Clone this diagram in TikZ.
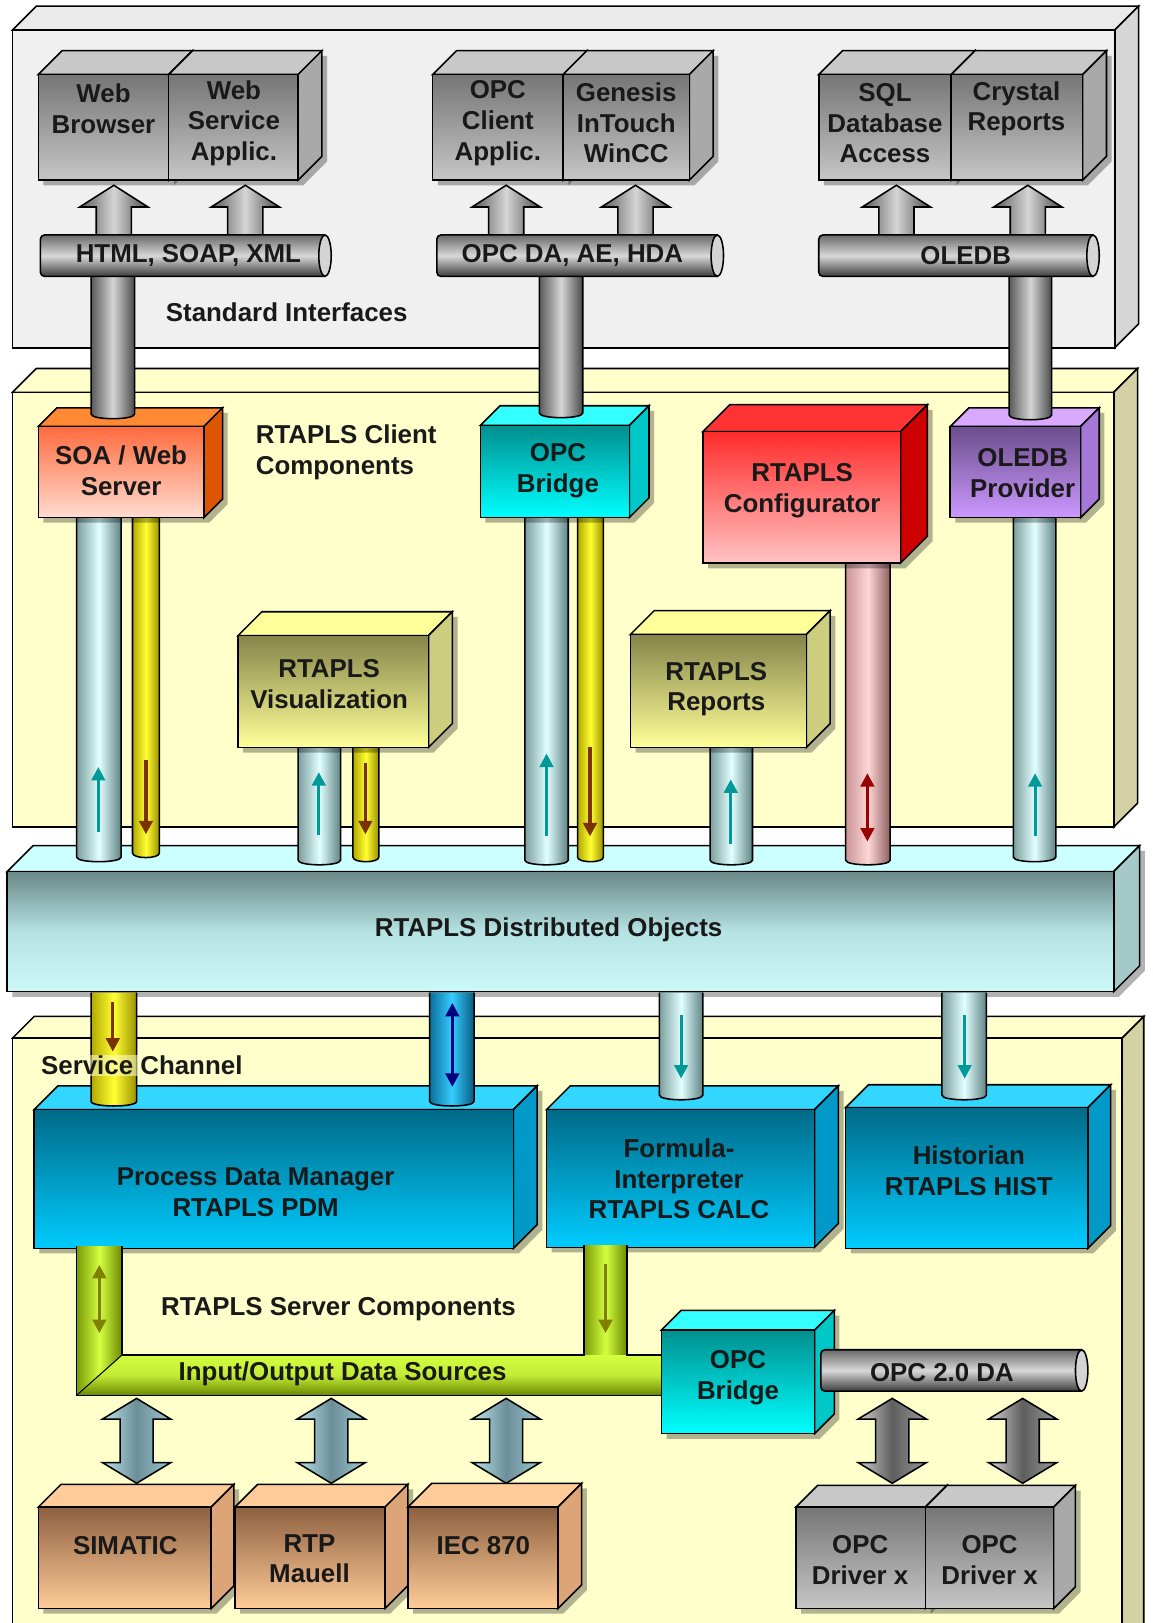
\documentclass[tikz,border=0pt]{standalone}
\usepackage{fontspec}
\setmainfont{Liberation Sans}
\usetikzlibrary{arrows.meta}
% panels
\definecolor{pgfront}{HTML}{F0F0F0}\definecolor{pgtop}{HTML}{EAEAEA}\definecolor{pgside}{HTML}{D6D6D6}
\definecolor{pyfront}{HTML}{FFFFCC}\definecolor{pytop}{HTML}{FFFFCC}\definecolor{pyside}{HTML}{D4D1A4}
% boxes
\definecolor{gbT}{HTML}{767676}\definecolor{gbB}{HTML}{C6C6C6}\definecolor{gbLid}{HTML}{C8C8C8}\definecolor{gbSide}{HTML}{A9A9A9}
\definecolor{soaT}{HTML}{FF6B3D}\definecolor{soaB}{HTML}{FFDCD0}\definecolor{soaLid}{HTML}{FF8A33}\definecolor{soaSide}{HTML}{DD5500}
\definecolor{cyT}{HTML}{008F8F}\definecolor{cyB}{HTML}{00FFFF}\definecolor{cyLid}{HTML}{33FFFF}\definecolor{cySide}{HTML}{00C8C8}
\definecolor{rdT}{HTML}{FF2B2B}\definecolor{rdB}{HTML}{FFC4C4}\definecolor{rdLid}{HTML}{FF3333}\definecolor{rdSide}{HTML}{CC0000}
\definecolor{puT}{HTML}{6B4D8C}\definecolor{puB}{HTML}{CC99FF}\definecolor{puLid}{HTML}{D9A8FF}\definecolor{puSide}{HTML}{A577D6}
\definecolor{ybT}{HTML}{85854A}\definecolor{ybB}{HTML}{FFFF99}\definecolor{ybLid}{HTML}{FFFF99}\definecolor{ybSide}{HTML}{CDCD80}
\definecolor{bsT}{HTML}{006A88}\definecolor{bsB}{HTML}{00CCFF}\definecolor{bsLid}{HTML}{33D6FF}\definecolor{bsSide}{HTML}{0099C8}
\definecolor{tnT}{HTML}{8E6040}\definecolor{tnB}{HTML}{FFCC99}\definecolor{tnLid}{HTML}{FFCC99}\definecolor{tnSide}{HTML}{DDA577}
\definecolor{barT}{HTML}{6B8787}\definecolor{barM}{HTML}{B5E3E3}\definecolor{barB}{HTML}{CCFAFA}\definecolor{barLid}{HTML}{CCFFFF}\definecolor{barSide}{HTML}{A5C9C9}
% pipes
\definecolor{gpL}{HTML}{5A5A5A}\definecolor{gpM}{HTML}{D5D5D5}\definecolor{gpR}{HTML}{4A4A4A}
\definecolor{gpHT}{HTML}{6A6A6A}\definecolor{gpHM}{HTML}{D8D8D8}\definecolor{gpHB}{HTML}{3C3C3C}
\definecolor{capc}{HTML}{D4D4D4}
\definecolor{lbL}{HTML}{7C9E9E}\definecolor{lbM}{HTML}{E2FFFF}\definecolor{lbR}{HTML}{5F8383}
\definecolor{ylL}{HTML}{B3A800}\definecolor{ylM}{HTML}{FFFF33}\definecolor{ylR}{HTML}{9C9000}
\definecolor{pkL}{HTML}{C99595}\definecolor{pkM}{HTML}{FFD6D6}\definecolor{pkR}{HTML}{8E6060}
\definecolor{dbL}{HTML}{0B6E9A}\definecolor{dbM}{HTML}{35CCFF}\definecolor{dbR}{HTML}{085A80}
\definecolor{grL}{HTML}{7A9A05}\definecolor{grM}{HTML}{D4FF40}\definecolor{grR}{HTML}{6B8800}
\definecolor{bbL}{HTML}{B8E4EC}\definecolor{bbM}{HTML}{6C8E98}\definecolor{bbR}{HTML}{9CC8D0}
\definecolor{gkL}{HTML}{D0D0D0}\definecolor{gkM}{HTML}{5E5E5E}\definecolor{gkR}{HTML}{9A9A9A}
% small arrows
\definecolor{tealA}{HTML}{009999}\definecolor{brownA}{HTML}{7A3300}\definecolor{redA}{HTML}{990000}
\definecolor{navyA}{HTML}{000080}\definecolor{oliveA}{HTML}{808000}

\newcommand{\slab}[8]{%
  \draw[outl,fill=#7] (#1,#2) -- (#1+#5,#2-#5) -- (#3+#5,#2-#5) -- (#3,#2) -- cycle;
  \draw[outl,fill=#8] (#3,#2) -- (#3+#5,#2-#5) -- (#3+#5,#4-#5) -- (#3,#4) -- cycle;
  \draw[outl,#6] (#1,#2) rectangle (#3,#4);
}
\newcommand{\cuboid}[8]{%
  \fill[shadowc] (#1+5,#2+5) -- (#1+#5+5,#2-#5+5) -- (#3+#5+5,#2-#5+5) -- (#3+#5+5,#4-#5+5) -- (#3+5,#4+5) -- (#1+5,#4+5) -- cycle;
  \slab{#1}{#2}{#3}{#4}{#5}{#6}{#7}{#8}
}
\newcommand{\vpipe}[5]{%
  \fill[#5] (#1,#3) -- (#1,#4) .. controls (#1,#4+6) and (#2,#4+6) .. (#2,#4) -- (#2,#3) -- cycle;
  \draw[outl] (#1,#3) -- (#1,#4) .. controls (#1,#4+6) and (#2,#4+6) .. (#2,#4) -- (#2,#3);
}
\newcommand{\hpipe}[6]{%
  \draw[outl,#6,rounded corners=4pt] (#2-6,#3) -- (#1,#3) -- (#1,#4) -- (#2-6,#4);
  \draw[outl,fill=capc] (#2-6,#3+#5) ellipse [x radius=6pt, y radius=#5pt];
}
\newcommand{\blkup}[4]{%
  \draw[outl,#4] (#1-17,#3) -- (#1-17,#2+21) -- (#1-33,#2+21) -- (#1,#2) -- (#1+33,#2+21) -- (#1+17,#2+21) -- (#1+17,#3);
}
\newcommand{\blkdbl}[4]{%
  \draw[outl,#4] (#1,#2) -- (#1+33,#2+20) -- (#1+16,#2+20) -- (#1+16,#3-20) -- (#1+33,#3-20) -- (#1,#3) -- (#1-33,#3-20) -- (#1-16,#3-20) -- (#1-16,#2+20) -- (#1-33,#2+20) -- cycle;
}

\begin{document}
\begin{tikzpicture}[x=1pt,y=-1pt,
  outl/.style={draw=black,line width=1.5pt,line join=miter},
  shadowc/.style={fill=black,opacity=0.3},
  lbl/.style={font=\bfseries\fontsize{25}{29.5}\selectfont,align=center,inner sep=0pt,text=black!90},
  gpV/.style={left color=gpL,right color=gpR,middle color=gpM},
  gpH/.style={top color=gpHT,bottom color=gpHB,middle color=gpHM},
  gblk/.style={left color=gpL,right color=gpR,middle color=gpM},
  lbP/.style={left color=lbL,right color=lbR,middle color=lbM},
  ylP/.style={left color=ylL,right color=ylR,middle color=ylM},
  pkP/.style={left color=pkL,right color=pkR,middle color=pkM},
  dbP/.style={left color=dbL,right color=dbR,middle color=dbM},
  grV/.style={left color=grL,right color=grR,middle color=grM},
  grH/.style={top color=grM,bottom color=grR,middle color=grM!80!grL},
  bbk/.style={left color=bbL,right color=bbR,middle color=bbM},
  gbk/.style={left color=gkL,right color=gkR,middle color=gkM},
  tip/.style={-{Triangle[length=13pt,width=13pt]}},
  dtip/.style={{Triangle[length=13pt,width=13pt]}-{Triangle[length=13pt,width=13pt]}},
  upTeal/.style={draw=tealA,line width=3pt,tip},
  dnTeal/.style={draw=tealA,line width=3pt,tip},
  dnBrown/.style={draw=brownA,line width=3pt,tip},
  dnOlive/.style={draw=oliveA,line width=3pt,tip},
  dblRed/.style={draw=redA,line width=3pt,dtip},
  dblNavy/.style={draw=navyA,line width=3pt,dtip},
  dblOlive/.style={draw=oliveA,line width=3pt,dtip}]
\useasboundingbox (0,0) rectangle (1113,1568);
\clip (0,0) rectangle (1113,1568);
\fill[white] (0,0) rectangle (1113,1568);

% ---------- panels ----------
\slab{12}{29}{1077}{336}{23}{fill=pgfront}{pgtop}{pgside}
\slab{12}{379}{1076}{799}{23}{fill=pyfront}{pytop}{pyside}
\slab{12}{1003}{1084}{1600}{21}{fill=pyfront}{pytop}{pyside}
\cuboid{7}{842}{1076}{958}{25}{top color=barT,bottom color=barB,middle color=barM}{barLid}{barSide}
\node[lbl] (dobj) at (530,898) {RTAPLS Distributed Objects};

% ---------- client pipes ----------
\vpipe{74}{117}{495}{828}{lbP}
\vpipe{128}{154}{495}{824}{ylP}
\vpipe{288}{329}{716}{831}{lbP}
\vpipe{341}{366}{716}{828}{ylP}
\vpipe{507}{549}{495}{831}{lbP}
\vpipe{558}{583}{495}{828}{ylP}
\vpipe{686}{727}{716}{831}{lbP}
\vpipe{817}{860}{540}{831}{pkP}
\vpipe{979}{1020}{495}{828}{lbP}
\draw[upTeal] (95,804) -- (95,741);
\draw[dnBrown] (141,734) -- (141,806);
\draw[upTeal] (308,807) -- (308,746);
\draw[dnBrown] (353,737) -- (353,806);
\draw[upTeal] (528,808) -- (528,728);
\draw[dnBrown] (570,722) -- (570,808);
\draw[upTeal] (706,815) -- (706,753);
\draw[dblRed] (838,747) -- (838,813);
\draw[upTeal] (1000,808) -- (1000,747);

% ---------- client components ----------
\cuboid{37}{412}{197}{500}{18}{top color=soaT,bottom color=soaB}{soaLid}{soaSide}
\cuboid{464}{411}{608}{500}{19}{top color=cyT,bottom color=cyB}{cyLid}{cySide}
\cuboid{679}{417}{870}{544}{26}{top color=rdT,bottom color=rdB}{rdLid}{rdSide}
\cuboid{918}{412}{1044}{500}{18}{top color=puT,bottom color=puB}{puLid}{puSide}
\cuboid{230}{614}{414}{722}{23}{top color=ybT,bottom color=ybB}{ybLid}{ybSide}
\cuboid{609}{613}{779}{722}{23}{top color=ybT,bottom color=ybB}{ybLid}{ybSide}
\node[lbl] (soa) at (117,455) {SOA / Web\\Server};
\node[lbl,align=left,anchor=west] (clientc) at (247,437) {RTAPLS Client\\Components};
\node[lbl] (opcb1) at (539,455) {OPC\\Bridge};
\node[lbl] (config) at (775,474) {RTAPLS\\Configurator};
\node[lbl] (oledbp) at (988,457) {OLEDB\\Provider};
\node[lbl] (visu) at (318,661) {RTAPLS\\Visualization};
\node[lbl] (reports) at (692,666) {RTAPLS\\Reports};

% ---------- standard interfaces ----------
\vpipe{88}{130}{255}{400}{gpV}
\vpipe{521}{563}{255}{399}{gpV}
\vpipe{975}{1016}{255}{401}{gpV}
\blkup{110}{179}{230}{gblk}
\blkup{237}{179}{230}{gblk}
\blkup{489}{179}{230}{gblk}
\blkup{614}{179}{230}{gblk}
\blkup{866}{179}{230}{gblk}
\blkup{993}{179}{230}{gblk}
\hpipe{39}{320}{227}{267}{20}{gpH}
\hpipe{422}{699}{227}{267}{20}{gpH}
\hpipe{791}{1062}{227}{267}{20}{gpH}
\node[lbl] (html) at (182,247) {HTML, SOAP, XML};
\node[lbl] (opcda) at (553,247) {OPC DA, AE, HDA};
\node[lbl] (oledb) at (933,247) {OLEDB};
\cuboid{37}{72}{163}{174}{23}{top color=gbT,bottom color=gbB}{gbLid}{gbSide}
\cuboid{163}{72}{288}{174}{23}{top color=gbT,bottom color=gbB}{gbLid}{gbSide}
\cuboid{418}{72}{544}{174}{23}{top color=gbT,bottom color=gbB}{gbLid}{gbSide}
\cuboid{544}{72}{666}{174}{23}{top color=gbT,bottom color=gbB}{gbLid}{gbSide}
\cuboid{791}{72}{919}{174}{23}{top color=gbT,bottom color=gbB}{gbLid}{gbSide}
\cuboid{919}{72}{1046}{174}{23}{top color=gbT,bottom color=gbB}{gbLid}{gbSide}
\node[lbl] (webbr) at (100,105) {Web\\Browser};
\node[lbl] (websv) at (226,119) {Web\\Service\\Applic.};
\node[lbl] (opccl) at (481,119) {OPC\\Client\\Applic.};
\node[lbl] (genesis) at (605,119) {Genesis\\InTouch\\WinCC};
\node[lbl] (sql) at (855,119) {SQL\\Database\\Access};
\node[lbl] (crystal) at (982,105) {Crystal\\Reports};
\node[lbl] (stdif) at (277,302) {Standard Interfaces};

% ---------- server components ----------
\cuboid{33}{1072}{496}{1206}{23}{top color=bsT,bottom color=bsB}{bsLid}{bsSide}
\cuboid{528}{1072}{787}{1205}{23}{top color=bsT,bottom color=bsB}{bsLid}{bsSide}
\cuboid{817}{1070}{1051}{1206}{22}{top color=bsT,bottom color=bsB}{bsLid}{bsSide}
\vpipe{88}{132}{959}{1064}{ylP}
\vpipe{415}{458}{959}{1064}{dbP}
\vpipe{637}{679}{959}{1058}{lbP}
\vpipe{910}{953}{959}{1058}{lbP}
\draw[dnBrown] (109,968) -- (109,1016);
\draw[dblNavy] (437,969) -- (437,1050);
\draw[dnTeal] (658,981) -- (658,1042);
\draw[dnTeal] (932,981) -- (932,1042);
\node[lbl,fill=pyfront,fill opacity=0.55,text opacity=1,inner sep=1pt] (svc) at (137,1029) {Service Channel};
\node[lbl] (pdm) at (247,1152) {Process Data Manager\\RTAPLS PDM};
\node[lbl] (calc) at (656,1139) {Formula-\\Interpreter\\RTAPLS CALC};
\node[lbl] (hist) at (936,1131) {Historian\\RTAPLS HIST};

% ---------- I/O data sources ----------
\fill[grV] (74,1204) -- (74,1348) -- (118,1309) -- (118,1204) -- cycle;
\fill[grH] (74,1348) -- (118,1309) -- (645,1309) -- (645,1348) -- cycle;
\fill[grV] (564,1203) rectangle (606,1309);
\draw[outl] (74,1204) -- (74,1348) -- (645,1348);
\draw[outl] (118,1204) -- (118,1309) -- (564,1309) -- (564,1203);
\draw[outl] (606,1203) -- (606,1309) -- (645,1309);
\draw[outl,line width=1pt] (74,1348) -- (118,1309);
\draw[dblOlive] (96,1222) -- (96,1288);
\draw[dnOlive] (585,1221) -- (585,1288);
\node[lbl] (srvc) at (327,1265) {RTAPLS Server Components};
\node[lbl] (iods) at (331,1327) {Input/Output Data Sources};
\cuboid{639}{1285}{787}{1385}{19}{top color=cyT,bottom color=cyB}{cyLid}{cySide}
\node[lbl] (opcb2) at (713,1331) {OPC\\Bridge};
\hpipe{793}{1051}{1304}{1344}{20}{gpH}
\node[lbl] (opc20) at (910,1326) {OPC 2.0 DA};

\blkdbl{132}{1351}{1433}{bbk}
\blkdbl{320}{1351}{1433}{bbk}
\blkdbl{489}{1351}{1433}{bbk}
\blkdbl{862}{1351}{1433}{gbk}
\blkdbl{988}{1351}{1433}{gbk}

\cuboid{37}{1456}{204}{1554}{22}{top color=tnT,bottom color=tnB}{tnLid}{tnSide}
\cuboid{227}{1456}{372}{1554}{22}{top color=tnT,bottom color=tnB}{tnLid}{tnSide}
\cuboid{394}{1456}{539}{1554}{23}{top color=tnT,bottom color=tnB}{tnLid}{tnSide}
\cuboid{769}{1456}{894}{1554}{21}{top color=gbT,bottom color=gbB}{gbLid}{gbSide}
\cuboid{894}{1456}{1018}{1554}{21}{top color=gbT,bottom color=gbB}{gbLid}{gbSide}
\node[lbl] (simatic) at (121,1493) {SIMATIC};
\node[lbl] (rtp) at (299,1506) {RTP\\Mauell};
\node[lbl] (iec) at (467,1493) {IEC 870};
\node[lbl] (drv1) at (831,1507) {OPC\\Driver x};
\node[lbl] (drv2) at (956,1507) {OPC\\Driver x};
\end{tikzpicture}
\end{document}
